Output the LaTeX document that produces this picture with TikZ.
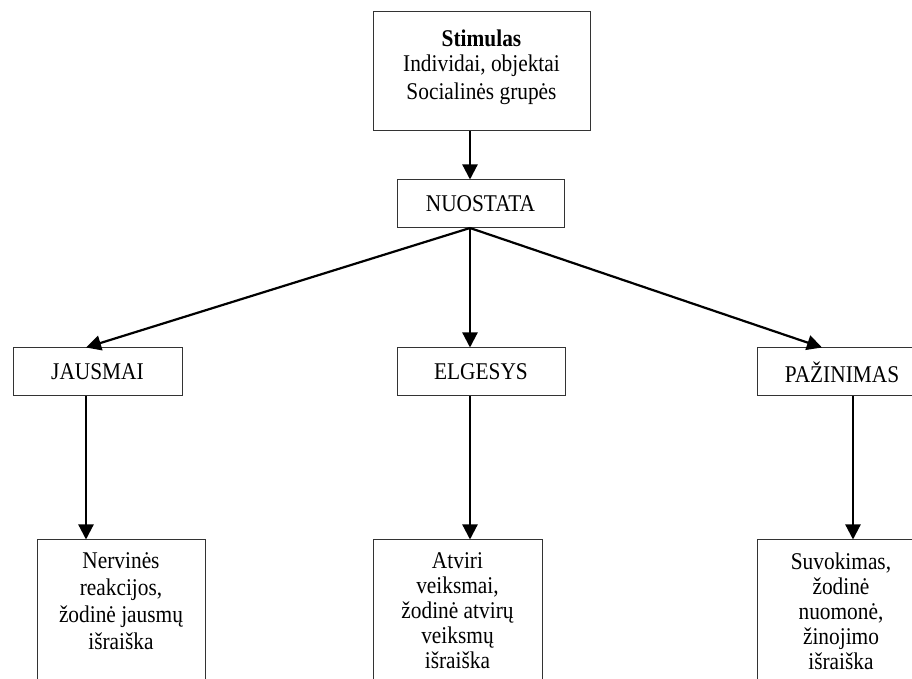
\documentclass[tikz,border=0pt]{standalone}
\usepackage{fontspec}
\setmainfont{Liberation Serif}[FakeStretch=0.89]
\usepackage{tikz}
\usetikzlibrary{calc, positioning, arrows.meta}

\begin{document}
\begin{tikzpicture}[x=0.5pt, y=-0.5pt,
  box/.style={draw=black!80, line width=0.5pt, rectangle, inner sep=0pt,
    minimum height=24pt, font=\fontsize{12}{12.5}\selectfont},
  txt/.style={align=center, inner sep=0pt, font=\fontsize{12}{12.5}\selectfont},
  arr/.style={line width=1.1pt, -{Triangle[length=7.5pt, width=7.5pt]}}]
  \useasboundingbox (0,0) rectangle (912,679);
  \clip (0,0) rectangle (912,679);

  % Nodes
  \node[box, minimum width=108.5pt, minimum height=59.5pt] (stim) at (481.5, 71.5) {};
  \node[txt, below=9pt of stim.north] (stimtxt) {\textbf{Stimulas}\\Individai, objektai\\[1.5pt]Socialinės grupės};
  \node[box, minimum width=83.5pt] (nuo) at (480.5, 204) {NUOSTATA};
  \node[box, minimum width=84.5pt] (jaus) at (97.5, 372) {JAUSMAI};
  \node[box, minimum width=84pt] (elg) at (481, 372) {ELGESYS};
  \node[box, minimum width=85pt] (paz) at (842, 372) {PAŽINIMAS};
  \node[box, minimum width=84pt, minimum height=100pt] (jres) at (121, 640) {};
  \node[txt, font=\fontsize{12}{13.5}\selectfont, below=6.5pt of jres.north] (jrestxt) {Nervinės\\reakcijos,\\žodinė jausmų\\išraiška};
  \node[box, minimum width=84.5pt, minimum height=100pt] (eres) at (457.5, 640) {};
  \node[txt, below=6.5pt of eres.north] (erestxt) {Atviri\\veiksmai,\\žodinė atvirų\\veiksmų\\išraiška};
  \node[box, minimum width=84pt, minimum height=100pt] (pres) at (841, 640) {};
  \node[txt, below=6.5pt of pres.north] (prestxt) {Suvokimas,\\žodinė\\nuomonė,\\žinojimo\\išraiška};

  % Edges
  \coordinate (fork) at (470, 228);
  \coordinate (jcol) at (86, 0);
  \coordinate (ptip) at (822, 0);
  \coordinate (pcol) at (853, 0);
  \draw[arr] (stim.south -| fork) -- (nuo.north -| fork);
  \draw[arr] (fork) -- (jaus.north -| jcol);
  \draw[arr] (fork) -- (elg.north -| fork);
  \draw[arr] (fork) -- (paz.north -| ptip);
  \draw[arr] (jaus.south -| jcol) -- (jres.north -| jcol);
  \draw[arr] (elg.south -| fork) -- (eres.north -| fork);
  \draw[arr] (paz.south -| pcol) -- (pres.north -| pcol);
\end{tikzpicture}
\end{document}
